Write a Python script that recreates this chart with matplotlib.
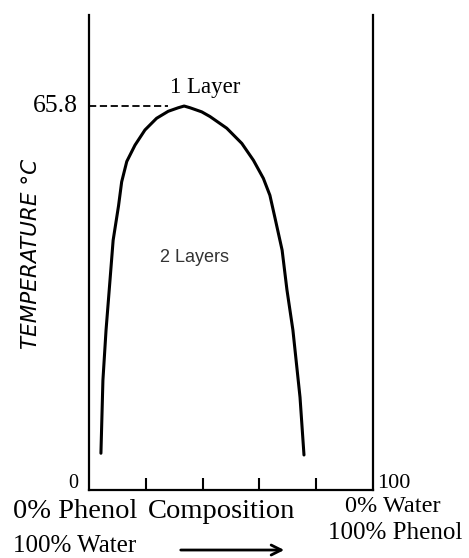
import numpy as np
import matplotlib.pyplot as plt

# phase boundary (composition % phenol, temperature C)
left_x = [4.2, 4.9, 6.0, 7.4, 8.5, 10.4, 11.5, 13.3, 16.2, 19.7, 23.8, 27.9, 31.4]
left_y = [6.3, 18.8, 27.4, 36.0, 42.8, 48.7, 52.8, 56.3, 59.1, 61.7, 63.7, 64.9, 65.5]
peak_x = [33.5]
peak_y = [65.8]
right_x = [35.6, 39.7, 42.6, 48.5, 53.8, 57.9, 61.4, 63.7, 65.5, 68.0, 69.7, 71.8, 74.3, 75.7]
right_y = [65.5, 64.8, 64.0, 62.0, 59.4, 56.5, 53.4, 50.5, 46.6, 41.1, 34.3, 27.4, 15.9, 6.0]

critical_temp = 65.8
dash_end = 27.9
x_ticks = [20, 40, 60, 80]

composition = np.array(left_x + peak_x + right_x)
temperature = np.array(left_y + peak_y + right_y)

serif = 'Liberation Serif'

fig = plt.figure(figsize=(4.69, 5.58), dpi=100)
ax = fig.add_axes([89/469, 68/558, 284/469, 475/558])

ax.plot(composition, temperature, color='black', lw=2.2,
        solid_capstyle='round', solid_joinstyle='round')
ax.plot([0, dash_end], [critical_temp, critical_temp], color='black', lw=1.3, ls=(0, (4, 2)))

ax.set_xlim(0, 100)
ax.set_ylim(0, 81.4)
ax.spines['top'].set_visible(False)
for s in ['left', 'right', 'bottom']:
    ax.spines[s].set_linewidth(1.6)
ax.set_xticks(x_ticks)
ax.set_xticklabels([])
ax.tick_params(axis='x', direction='in', length=9, width=1.5)
ax.set_yticks([])

# axis end labels
ax.text(-3.9, critical_temp, '65.8', ha='right', va='center', fontsize=18.5, family=serif)
ax.text(-3.9, 0.4, '0', ha='right', va='baseline', fontsize=14.5, family=serif)
ax.text(101.4, 0.4, '100', ha='left', va='baseline', fontsize=16, family=serif)

# region labels
ax.text(40.8, 68.9, '1 Layer', ha='center', va='center', fontsize=16.5, family=serif)
ax.text(37, 39.8, '2 Layers', ha='center', va='center', fontsize=13,
        family='Liberation Sans', color='#333333')

fig.text(0.066, 0.545, 'TEMPERATURE °C', rotation=90, ha='center', va='center',
         fontsize=15.5, style='italic',
         family=['Liberation Sans Narrow', 'DejaVu Sans Condensed', 'DejaVu Sans'])

fig.text(0.160, 0.0842, '0% Phenol', ha='center', va='center', fontsize=20.5, family=serif)
fig.text(0.160, 0.0215, '100% Water', ha='center', va='center', fontsize=18, family=serif)
fig.text(0.473, 0.084, 'Composition', ha='center', va='center', fontsize=20.5, family=serif)
fig.text(0.838, 0.093, '0% Water', ha='center', va='center', fontsize=17.5, family=serif)
fig.text(0.842, 0.0446, '100% Phenol', ha='center', va='center', fontsize=18, family=serif)

ax.annotate('', xy=(0.612, 0.0143), xytext=(0.3795, 0.0143),
            xycoords='figure fraction', textcoords='figure fraction',
            arrowprops=dict(arrowstyle='->', color='black', lw=2.0, mutation_scale=18))

fig.savefig('out.png', dpi=100)
